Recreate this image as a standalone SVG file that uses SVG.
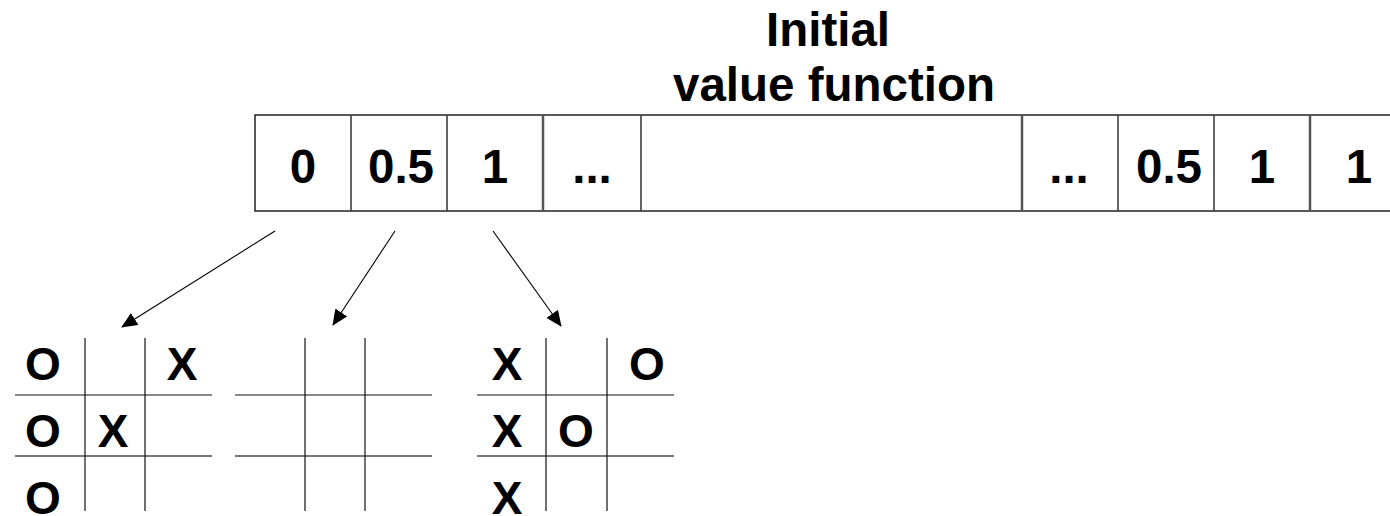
<svg xmlns="http://www.w3.org/2000/svg" width="1390" height="516" viewBox="0 0 1390 516">
  <style>
    .t { font-family: "Liberation Sans", Arial, sans-serif; font-weight: bold; font-size: 46px; fill: #000; text-anchor: middle; }
    .big { font-size: 47.5px; }
    .row { fill: none; stroke: #222; stroke-width: 1.5; }
    .div { stroke: #333; stroke-width: 1.5; }
    .div2 { stroke: #555; stroke-width: 2.5; }
    .grid { stroke: #111; stroke-width: 1.2; }
    .gridg { stroke: #777; stroke-width: 2; }
    .arrow { stroke: #000; stroke-width: 1.1; fill: none; marker-end: url(#head); }
  </style>
  <defs>
    <marker id="head" viewBox="0 0 16 14" refX="15" refY="7" markerWidth="16" markerHeight="14" markerUnits="userSpaceOnUse" orient="auto">
      <path d="M0,0 L16,7 L0,14 Z" fill="#000"/>
    </marker>
  </defs>
  <rect width="1390" height="516" fill="#fff"/>

  <g id="title">
    <text class="t big" x="828" y="46">Initial</text>
    <text class="t big" x="834" y="101">value function</text>
  </g>

  <g id="value-table">
    <path class="row" d="M1392,115 H255 V211 H1392"/>
    <line class="div" x1="351" y1="115" x2="351" y2="211"/>
    <line class="div" x1="447" y1="115" x2="447" y2="211"/>
    <line class="div2" x1="543" y1="115" x2="543" y2="211"/>
    <line class="div" x1="641" y1="115" x2="641" y2="211"/>
    <line class="div2" x1="1022" y1="115" x2="1022" y2="211"/>
    <line class="div" x1="1118" y1="115" x2="1118" y2="211"/>
    <line class="div" x1="1214" y1="115" x2="1214" y2="211"/>
    <line class="div2" x1="1310" y1="115" x2="1310" y2="211"/>
    <text class="t big" x="303" y="183">0</text>
    <text class="t big" x="401" y="183">0.5</text>
    <text class="t big" x="495" y="183">1</text>
    <text class="t big" x="592" y="183">...</text>
    <text class="t big" x="1069" y="183">...</text>
    <text class="t big" x="1169" y="183">0.5</text>
    <text class="t big" x="1262" y="183">1</text>
    <text class="t big" x="1359" y="183">1</text>
  </g>

  <g id="connectors">
    <line class="arrow" x1="275" y1="231" x2="122" y2="327"/>
    <line class="arrow" x1="395" y1="231" x2="333" y2="325"/>
    <line class="arrow" x1="493" y1="231" x2="561" y2="326"/>
  </g>

  <g id="board-1">
    <line class="grid" x1="15" y1="395" x2="212" y2="395"/>
    <line class="gridg" x1="15" y1="456" x2="212" y2="456"/>
    <line class="grid" x1="85" y1="338" x2="85" y2="511"/>
    <line class="grid" x1="145" y1="338" x2="145" y2="511"/>
    <text class="t" x="43" y="380">O</text>
    <text class="t" x="182" y="380">X</text>
    <text class="t" x="43" y="447">O</text>
    <text class="t" x="113" y="447">X</text>
    <text class="t" x="43" y="514">O</text>
  </g>

  <g id="board-2">
    <line class="grid" x1="235" y1="395" x2="432" y2="395"/>
    <line class="gridg" x1="235" y1="456" x2="432" y2="456"/>
    <line class="grid" x1="305" y1="338" x2="305" y2="511"/>
    <line class="grid" x1="365" y1="338" x2="365" y2="511"/>
  </g>

  <g id="board-3">
    <line class="grid" x1="477" y1="395" x2="674" y2="395"/>
    <line class="gridg" x1="477" y1="456" x2="674" y2="456"/>
    <line class="grid" x1="546" y1="338" x2="546" y2="511"/>
    <line class="grid" x1="607" y1="338" x2="607" y2="511"/>
    <text class="t" x="507" y="380">X</text>
    <text class="t" x="647" y="380">O</text>
    <text class="t" x="507" y="447">X</text>
    <text class="t" x="576" y="447">O</text>
    <text class="t" x="507" y="514">X</text>
  </g>
</svg>
